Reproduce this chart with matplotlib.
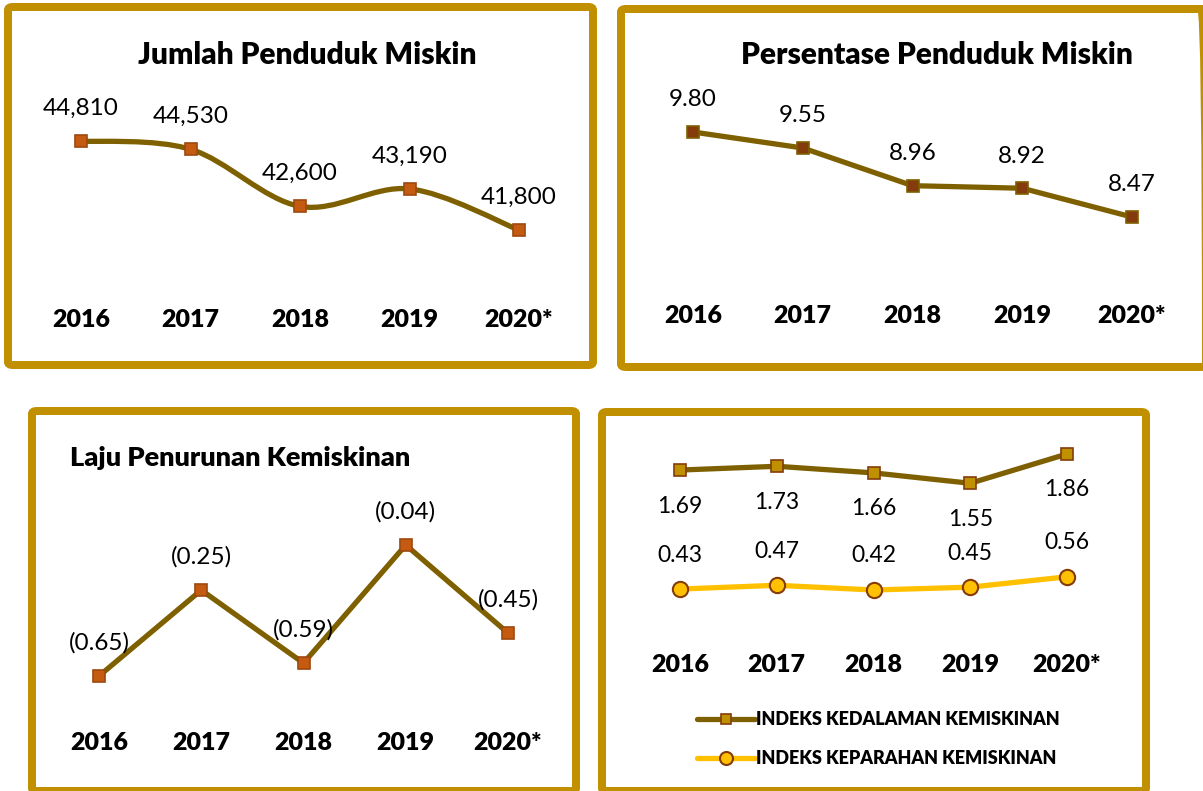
import numpy as np
import matplotlib
matplotlib.use("Agg")
import matplotlib.pyplot as plt
from matplotlib.patches import FancyBboxPatch
from matplotlib.path import Path
from matplotlib.patches import PathPatch
import matplotlib.transforms as mtrans

plt.rcParams['font.family'] = ['Lato', 'DejaVu Sans']

# ---- data ----
years = ["2016", "2017", "2018", "2019", "2020*"]

jumlah = [44810, 44530, 42600, 43190, 41800]
jumlah_lbl = ["44,810", "44,530", "42,600", "43,190", "41,800"]

persen = [9.80, 9.55, 8.96, 8.92, 8.47]
persen_lbl = ["9.80", "9.55", "8.96", "8.92", "8.47"]

laju = [-0.65, -0.25, -0.59, -0.04, -0.45]
laju_lbl = ["(0.65)", "(0.25)", "(0.59)", "(0.04)", "(0.45)"]

kedalaman = [1.69, 1.73, 1.66, 1.55, 1.86]
keparahan = [0.43, 0.47, 0.42, 0.45, 0.56]

W, H = 1203, 791
fig = plt.figure(figsize=(W / 100, H / 100), dpi=100)

GOLD = "#C09000"
OLIVE = "#7F6000"
ORANGE = "#C55A11"
BROWN = "#843C0C"
YELLOW = "#FFC000"


def fx(x):
    return x / W


def fy(y):
    return 1 - y / H


def border(x0, y0, x1, y1):
    # outer pixel box -> centre line of 8px frame
    lw = 8
    x0c, y0c, x1c, y1c = x0 + lw / 2, y0 + lw / 2, x1 - lw / 2, y1 - lw / 2
    p = FancyBboxPatch((fx(x0c), fy(y1c)), fx(x1c) - fx(x0c), fy(y0c) - fy(y1c),
                       boxstyle="round,pad=0,rounding_size=0.004",
                       transform=fig.transFigure, fill=False,
                       edgecolor=GOLD, linewidth=lw * 0.72, zorder=0)
    fig.patches.append(p)


def make_ax(xl, xr, ytop, ybot, vmin, vmax):
    ax = fig.add_axes([fx(xl), fy(ybot), fx(xr) - fx(xl), fy(ytop) - fy(ybot)])
    ax.set_xlim(0, len(years) - 1)
    ax.set_ylim(vmin, vmax)
    ax.axis("off")
    return ax


def year_row(ax, ypx, size=18):
    tr = mtrans.blended_transform_factory(ax.transData, fig.transFigure)
    for i, yr in enumerate(years):
        ax.text(i, fy(ypx), yr, transform=tr, ha="center", va="center",
                fontsize=size, fontweight="heavy", color="black")


def labels(ax, vals, texts, dy_px, size=17.5):
    for i, (v, t) in enumerate(zip(vals, texts)):
        ax.annotate(t, (i, v), xytext=(0, dy_px * 0.72), textcoords="offset points",
                    ha="center", va="center", fontsize=size, color="black",
                    annotation_clip=False)


def smooth_path(xs, ys):
    # Excel-style smoothed line as cubic bezier segments through the points
    n = len(xs)
    verts = [(xs[0], ys[0])]
    codes = [Path.MOVETO]
    for i in range(n - 1):
        p0 = max(i - 1, 0)
        p3 = min(i + 2, n - 1)
        c1 = (xs[i] + (xs[i + 1] - xs[p0]) / 6, ys[i] + (ys[i + 1] - ys[p0]) / 6)
        c2 = (xs[i + 1] - (xs[p3] - xs[i]) / 6, ys[i + 1] - (ys[p3] - ys[i]) / 6)
        verts += [c1, c2, (xs[i + 1], ys[i + 1])]
        codes += [Path.CURVE4] * 3
    return Path(verts, codes)


x = np.arange(len(years))

# ---- panel 1 ----
border(4, 3, 597, 369)
fig.text(fx(307), fy(55), "Jumlah Penduduk Miskin", ha="center", va="center",
         fontsize=21.5, fontweight="heavy")
ax1 = make_ax(81, 519, 141, 230, min(jumlah), max(jumlah))
ax1.add_patch(PathPatch(smooth_path(x, jumlah), fill=False, edgecolor=OLIVE,
                        linewidth=3.8, capstyle="round", clip_on=False))
ax1.plot(x, jumlah, linestyle="none", marker="s", markersize=9,
         markerfacecolor=ORANGE, markeredgecolor="#9E480E", markeredgewidth=1.2,
         clip_on=False, zorder=3)
labels(ax1, jumlah, jumlah_lbl, 33)
year_row(ax1, 320)

# ---- panel 2 ----
border(617, 5, 1210, 371)
fig.text(fx(937), fy(55), "Persentase Penduduk Miskin", ha="center", va="center",
         fontsize=21.5, fontweight="heavy")
ax2 = make_ax(693, 1132, 132, 217, min(persen), max(persen))
ax2.plot(x, persen, color=OLIVE, linewidth=3.8, marker="s", markersize=9,
         markerfacecolor=BROWN, markeredgecolor=OLIVE, markeredgewidth=1.2,
         clip_on=False, solid_capstyle="round")
labels(ax2, persen, persen_lbl, 32)
year_row(ax2, 316)

# ---- panel 3 ----
border(28, 407, 580, 795)
fig.text(fx(70), fy(458), "Laju Penurunan Kemiskinan", ha="left", va="center",
         fontsize=19.5, fontweight="heavy")
ax3 = make_ax(99, 508, 545, 676, min(laju), max(laju))
ax3.plot(x, laju, color=OLIVE, linewidth=3.8, marker="s", markersize=9,
         markerfacecolor=ORANGE, markeredgecolor="#9E480E", markeredgewidth=1.2,
         clip_on=False, solid_capstyle="round")
labels(ax3, laju, laju_lbl, 33)
year_row(ax3, 743)

# ---- panel 4 ----
border(598, 408, 1150, 795)
allv = kedalaman + keparahan
ax4 = make_ax(680, 1067, 454, 590, min(allv), max(allv))
l1, = ax4.plot(x, kedalaman, color=OLIVE, linewidth=3.8, marker="s", markersize=9,
               markerfacecolor="#BF9000", markeredgecolor=BROWN, markeredgewidth=1.2,
               clip_on=False, solid_capstyle="round", label="INDEKS KEDALAMAN KEMISKINAN")
l2, = ax4.plot(x, keparahan, color=YELLOW, linewidth=3.8, marker="o", markersize=11,
               markerfacecolor=YELLOW, markeredgecolor=BROWN, markeredgewidth=1.5,
               clip_on=False, solid_capstyle="round", label="INDEKS KEPARAHAN KEMISKINAN")
labels(ax4, kedalaman, [f"{v:.2f}" for v in kedalaman], -36, size=16.5)
labels(ax4, keparahan, [f"{v:.2f}" for v in keparahan], 34, size=16.5)
year_row(ax4, 665)

leg = fig.legend(handles=[l1, l2], loc="upper left",
                 bbox_to_anchor=(fx(690), fy(704)), frameon=False,
                 prop={"weight": "heavy", "size": 13}, handlelength=3.2,
                 handletextpad=0.05, labelspacing=1.2, borderaxespad=0,
                 markerscale=0.85)

fig.savefig("out.png", dpi=100)
